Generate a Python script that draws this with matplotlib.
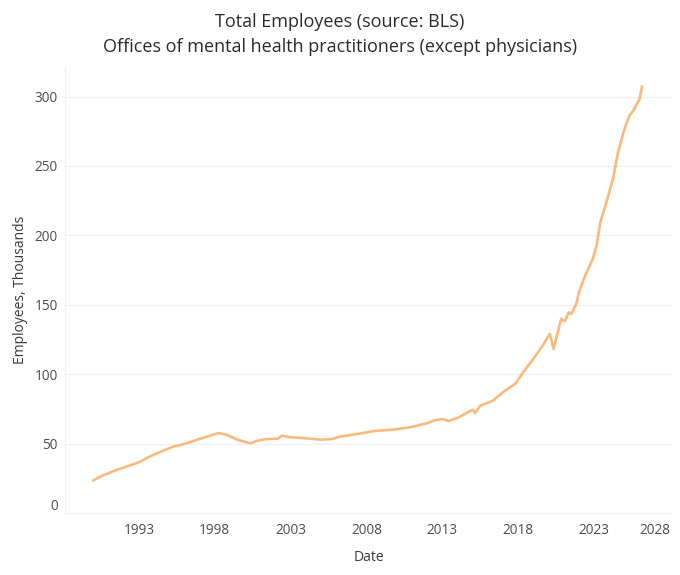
import pandas as pd
import matplotlib
matplotlib.use("Agg")
import matplotlib.pyplot as plt
import matplotlib.dates as mdates
import matplotlib.transforms as mtransforms

# values (thousands of employees)
dates = [
    "1990-01", "1990-07", "1991-08", "1993-01", "1993-11", "1995-04", "1996-01",
    "1997-01", "1998-04", "1998-11", "1999-07", "2000-05", "2000-11", "2001-06",
    "2002-03", "2002-06", "2003-01", "2003-08", "2004-01", "2005-01", "2005-10",
    "2006-04", "2007-07", "2008-09", "2009-10", "2010-11", "2012-01", "2012-06",
    "2013-01", "2013-06", "2014-02", "2014-10", "2015-01", "2015-03", "2015-07",
    "2016-05", "2017-01", "2017-11", "2018-05", "2019-01", "2019-08", "2020-02",
    "2020-05", "2020-11", "2021-02", "2021-05", "2021-07", "2021-11", "2022-01",
    "2022-06", "2022-12", "2023-03", "2023-06", "2023-10", "2024-04", "2024-08",
    "2025-01", "2025-05", "2025-08", "2026-01", "2026-03",
]
employees = [
    23.5, 26.4, 31.2, 36.5, 41.3, 47.8, 49.7,
    53.3, 57.6, 56.2, 52.8, 50.2, 52.1, 53.3,
    53.5, 55.7, 54.5, 54.2, 53.8, 52.8, 53.3,
    55.0, 57.1, 59.3, 60.0, 61.7, 64.6, 66.5,
    67.7, 66.3, 68.9, 73.0, 74.4, 72.0, 77.3,
    80.9, 87.0, 93.4, 101.4, 111.0, 120.1, 129.0,
    118.2, 139.8, 138.1, 144.6, 143.4, 150.6, 159.0,
    171.0, 183.0, 192.6, 209.4, 221.4, 240.6, 259.9,
    276.7, 286.2, 289.8, 298.3, 307.1,
]
tick_years = [1993, 1998, 2003, 2008, 2013, 2018, 2023, 2028]
y_ticks = [0, 50, 100, 150, 200, 250, 300]

plt.rcParams["font.family"] = ["Open Sans", "DejaVu Sans"]

x = pd.to_datetime(dates)

fig = plt.figure(figsize=(6.8, 5.75), dpi=100)
ax = fig.add_axes([65 / 680, 1 - 513 / 575, (672 - 65) / 680, (513 - 66) / 575])

ax.plot(x, employees, color="#fbba7b", linewidth=1.9, solid_joinstyle="round")

ax.set_xlim(pd.Timestamp("1988-02-20"), pd.Timestamp("2028-02-20"))
ax.set_ylim(0, 322)

ax.set_xticks([pd.Timestamp(f"{y}-01-01") for y in tick_years])
ax.xaxis.set_major_formatter(mdates.DateFormatter("%Y"))
ax.set_yticks(y_ticks)

ax.tick_params(axis="both", length=0, labelsize=9.8, labelcolor="#4d4d4d")
ax.tick_params(axis="y", pad=5)
ax.tick_params(axis="x", pad=7)
ax.grid(True, axis="y", color="#f1f1f1", linewidth=0.9)
ax.set_axisbelow(True)
for side in ["top", "right"]:
    ax.spines[side].set_visible(False)
for side in ["left", "bottom"]:
    ax.spines[side].set_color("#f1f1f1")
    ax.spines[side].set_linewidth(0.9)

ax.set_xlabel("Date", fontsize=10, color="#3a3a3a", labelpad=9)
ax.set_ylabel("Employees, Thousands", fontsize=10, color="#3a3a3a", labelpad=5)

fig.suptitle("Total Employees (source: BLS)\nOffices of mental health practitioners (except physicians)",
             x=0.5, y=0.978, fontsize=13, color="#2b2b2b", linespacing=1.55)

fig.canvas.draw()
# last x label sits flush at the right edge, "0" label lifted a little
xl = ax.get_xticklabels()
xl[-1].set_horizontalalignment("right")
yl = ax.get_yticklabels()
yl[0].set_transform(yl[0].get_transform() + mtransforms.ScaledTranslation(0, 0.09, fig.dpi_scale_trans))

fig.savefig("out.png", dpi=100)
